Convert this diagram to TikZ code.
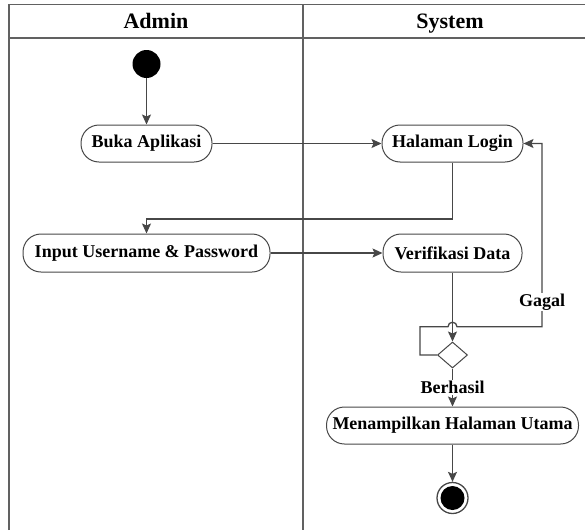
\documentclass[tikz,border=0pt]{standalone}
\usepackage{fontspec}
\setmainfont{Liberation Serif}
\usetikzlibrary{arrows.meta,shapes.geometric}
\begin{document}
\begin{tikzpicture}[x=1pt,y=1pt,
  lane/.style={draw=black!62, line width=1.5pt},
  flow/.style={draw=black!72, line width=1.3pt, -{Stealth[length=10pt,width=9pt,inset=2pt]}},
  act/.style={draw=black!72, line width=1pt, rectangle, rounded corners=18pt,
    minimum height=37pt, inner sep=0pt, font=\fontsize{18}{20}\selectfont\bfseries},
  lbl/.style={fill=white, inner sep=1pt, font=\fontsize{18}{20}\selectfont\bfseries},
  head/.style={anchor=base, inner sep=0pt, font=\fontsize{22}{24}\selectfont\bfseries}]
\useasboundingbox (0,0) rectangle (585,-530);

% swimlanes
\draw[lane] (9,-530) -- (9,-4.5) -- (590,-4.5);
\draw[lane] (9,-38) -- (590,-38);
\draw[lane] (303,-4.5) -- (303,-530);
\node[head] (hadmin) at (156,-28.5) {Admin};
\node[head] (hsys) at (450,-28.5) {System};

% activities
\node[circle, fill=black, minimum size=28pt, inner sep=0pt] (start) at (146.5,-64) {};
\node[act, minimum width=131pt] (buka) at (146.5,-143.5) {Buka Aplikasi};
\node[act, minimum width=141pt] (login) at (452.5,-143.5) {Halaman Login};
\node[act, minimum width=247pt, minimum height=38pt] (input) at (146.5,-253) {Input Username \& Password};
\node[act, minimum width=139pt, minimum height=38pt] (verif) at (452.5,-253) {Verifikasi Data};
\node[diamond, draw=black!72, line width=1pt, minimum width=30pt, minimum height=26pt, inner sep=0pt] (dec) at (452.5,-355) {};
\node[act, minimum width=252pt] (utama) at (452.5,-425.5) {Menampilkan Halaman Utama};
\node[circle, draw=black!72, line width=1.3pt, minimum size=31pt, inner sep=0pt] (stop) at (452.5,-498) {};
\node[circle, fill=black, minimum size=24pt, inner sep=0pt] (stopdot) at (stop) {};

% bend points
\coordinate (k1) at (300,-219);
\coordinate (g1) at (420,-326.7);
\coordinate (hopl) at (448,-326.7);
\coordinate (g2) at (542,-326.7);

% connectors
\draw[flow] (start) -- (buka);
\draw[flow] (buka) -- (login);
\draw[flow] (login.south) |- (k1) -| (input.north);
\draw[flow] (input) -- (verif);
\draw[flow] (verif.south) -- (dec.north);
\draw[flow] (dec.west) -| (g1) -- (hopl) arc[start angle=180, end angle=0, radius=4.5pt] -- (g2) |- (login.east);
\node[lbl] (gagal) at (542,-302) {Gagal};
\draw[flow] (dec.south) -- node[lbl] (berhasil) {Berhasil} (utama.north);
\draw[flow] (utama) -- (stop);
\end{tikzpicture}
\end{document}
